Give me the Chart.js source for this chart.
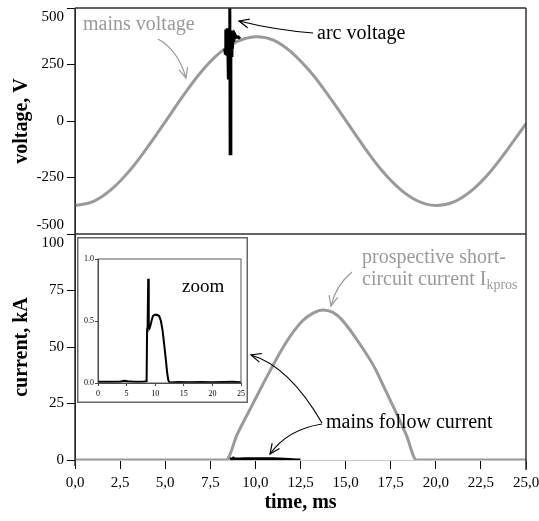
<!DOCTYPE html>
<html>
<head>
<meta charset="utf-8">
<script src="https://cdn.jsdelivr.net/npm/chart.js@4.4.0/dist/chart.umd.min.js"></script>
<style>
  html, body { margin: 0; padding: 0; background: #fff; }
  #wrap { position: relative; width: 539px; height: 521px; }
  #main { position: absolute; left: 0; top: 0; }
  #inset { position: absolute; left: 77px; top: 237px; }
</style>
</head>
<body>
<div id="wrap">
  <canvas id="main" width="539" height="521"></canvas>
  <canvas id="inset" width="171" height="166"></canvas>
</div>
<script>
// Values
const mainsT = [0, 1, 2, 3, 4, 5, 6, 7, 8, 9, 10, 11, 12, 13, 14, 15, 16, 17, 18, 19, 20, 21, 22, 23, 24, 25];
const mainsV = [-374, -357, -304, -222, -118, -4, 112, 218, 300, 352, 373, 358, 304, 222, 118, 4, -112, -218, -300, -354, -374, -358, -307, -227, -123, -12];

const arcT = [8.30, 8.33, 8.36, 8.40, 8.44, 8.48, 8.50, 8.52, 8.55, 8.58, 8.60, 8.64, 8.67, 8.70, 8.73, 8.76, 8.80, 8.85, 8.95, 9.05, 9.15];
const arcV = [320, 300, 405, 290, 410, 285, 190, 400, 300, 560, -145, 395, 290, 400, 320, 395, 350, 385, 370, 372, 365];

const prosT = [0, 8.37, 9.0, 9.83, 10.78, 11.7, 12.6, 13.2, 13.74, 14.3, 14.8, 15.9, 16.6, 17.26, 18.37, 18.93, 25];
const prosI = [0, 0, 11.5, 24.4, 39, 52, 61.5, 65, 66.4, 65.3, 62, 50, 41, 30, 11, 0, 0];

const followT = [0, 1.5, 3, 4, 4.6, 5.2, 6, 7, 8, 8.5, 8.58, 8.62, 8.7, 8.78, 8.84, 8.9, 9.0, 9.15, 9.35, 9.6, 9.9, 10.3, 10.7, 11.0, 11.3, 11.6, 11.9, 12.1, 12.3, 12.5, 14, 16, 18, 20, 22, 23.5, 25];
const followI = [0.01, 0.01, 0.01, 0.012, 0.018, 0.015, 0.012, 0.01, 0.012, 0.015, 0.44, 0.46, 0.41, 0.84, 0.5, 0.45, 0.44, 0.46, 0.5, 0.54, 0.55, 0.55, 0.54, 0.5, 0.42, 0.3, 0.17, 0.08, 0.02, 0.005, 0.008, 0.006, 0.009, 0.007, 0.008, 0.01, 0.006];

const timeTicks = [0, 2.5, 5, 7.5, 10, 12.5, 15, 17.5, 20, 22.5, 25];
const voltTicks = [-500, -250, 0, 250, 500];
const currTicks = [0, 25, 50, 75, 100];
const zoomTicksX = [0, 5, 10, 15, 20, 25];
const zoomTicksY = [0, 0.5, 1];

const SERIF = '"Liberation Serif", "Times New Roman", serif';
const GRAY = '#9a9a9a';

function pts(xs, ys) {
    return xs.map((x, i) => ({ x: x, y: ys[i] }));
}

function arrow(ctx, color, path, from, tip) {
    ctx.save();
    ctx.strokeStyle = color;
    ctx.lineWidth = 1.2;
    ctx.beginPath();
    path(ctx);
    ctx.stroke();
    const ang = Math.atan2(tip[1] - from[1], tip[0] - from[0]);
    const len = 11, spread = 0.42;
    ctx.beginPath();
    ctx.moveTo(tip[0] - len * Math.cos(ang - spread), tip[1] - len * Math.sin(ang - spread));
    ctx.lineTo(tip[0], tip[1]);
    ctx.lineTo(tip[0] - len * Math.cos(ang + spread), tip[1] - len * Math.sin(ang + spread));
    ctx.stroke();
    ctx.restore();
}

// frame lines and annotations of the main chart
const mainDecor = {
    id: 'mainDecor',
    afterDatasetsDraw(chart) {
        const { ctx, chartArea: a, scales } = chart;
        const sep = scales.yV.bottom;
        ctx.save();
        ctx.strokeStyle = '#333';
        ctx.lineWidth = 1.5;
        ctx.beginPath();
        ctx.moveTo(a.left, a.top); ctx.lineTo(a.right, a.top);
        ctx.moveTo(a.left, sep); ctx.lineTo(a.right, sep);
        ctx.moveTo(a.right, a.top); ctx.lineTo(a.right, a.bottom + 10);
        ctx.moveTo(a.left, a.top); ctx.lineTo(a.left, a.bottom + 6);
        ctx.stroke();

        ctx.font = '20px ' + SERIF;
        ctx.textBaseline = 'middle';
        ctx.textAlign = 'left';
        ctx.fillStyle = GRAY;
        ctx.fillText('mains voltage', 83, 25);
        ctx.fillText('prospective short-', 362, 258);
        ctx.fillText('circuit current I', 362, 280);
        const w = ctx.measureText('circuit current I').width;
        ctx.font = '14px ' + SERIF;
        ctx.fillText('kpros', 362 + w, 285);

        ctx.font = '20px ' + SERIF;
        ctx.fillStyle = '#000';
        ctx.fillText('arc voltage', 317, 34);
        ctx.fillText('mains follow current', 326, 423);
        ctx.restore();

        arrow(ctx, GRAY, c => { c.moveTo(158, 39); c.quadraticCurveTo(178, 50, 186, 78); }, [178, 50], [186, 78]);
        arrow(ctx, GRAY, c => { c.moveTo(352, 272); c.quadraticCurveTo(336, 285, 331, 306); }, [336, 285], [331, 306]);
        arrow(ctx, '#000', c => { c.moveTo(313, 33); c.quadraticCurveTo(275, 30, 239, 21); }, [275, 30], [239, 21]);
        arrow(ctx, '#000', c => { c.moveTo(322, 423); c.bezierCurveTo(300, 385, 275, 362, 251, 355); }, [275, 362], [251, 355]);
        arrow(ctx, '#000', c => { c.moveTo(322, 424); c.bezierCurveTo(296, 428, 280, 440, 270, 454); }, [280, 440], [270, 454]);
    }
};

const tickFont = { family: SERIF, size: 15 };
const titleFont = { family: SERIF, size: 20, weight: 'bold' };
const gridY = { drawOnChartArea: false, drawTicks: true, tickLength: 8, color: '#000', lineWidth: 1 };
const borderY = { display: true, color: '#000', width: 1 };
const fitY = s => { s.width = 75; s.paddingTop = 0; s.paddingBottom = 0; };

new Chart(document.getElementById('main'), {
    type: 'line',
    data: {
        datasets: [
            { data: pts(arcT, arcV), yAxisID: 'yV', borderColor: '#000', borderWidth: 3, pointRadius: 0, tension: 0 },
            { data: pts(followT.slice(10, 30), followI.slice(10, 30)), yAxisID: 'yI', borderColor: '#000', borderWidth: 3, pointRadius: 0, tension: 0 },
            { data: pts(mainsT, mainsV), yAxisID: 'yV', borderColor: GRAY, borderWidth: 3, pointRadius: 0, tension: 0.4 },
            { data: pts(prosT, prosI), yAxisID: 'yI', borderColor: GRAY, borderWidth: 3, pointRadius: 0, cubicInterpolationMode: 'monotone' }
        ]
    },
    options: {
        responsive: false,
        animation: false,
        devicePixelRatio: 1,
        layout: { padding: { left: 0, right: 13, top: 8, bottom: 0 } },
        plugins: { legend: { display: false }, tooltip: { enabled: false } },
        scales: {
            x: {
                type: 'linear', min: 0, max: 25,
                afterBuildTicks: s => { s.ticks = timeTicks.map(v => ({ value: v })); },
                afterFit: s => { s.height = 61; s.paddingLeft = 0; s.paddingRight = 0; },
                ticks: { font: tickFont, color: '#000', padding: 5, maxRotation: 0, autoSkip: false, callback: v => v.toFixed(1).replace('.', ',') },
                grid: { drawOnChartArea: false, drawTicks: true, tickLength: 9, color: '#000' },
                border: { display: true, color: '#c8c8c8', width: 1 },
                title: { display: true, text: 'time, ms', font: titleFont, color: '#000', padding: { top: 0, bottom: 6 } }
            },
            yI: {
                type: 'linear', position: 'left', stack: 'panels', stackWeight: 1,
                min: 0, max: 100,
                afterBuildTicks: s => { s.ticks = currTicks.map(v => ({ value: v })); },
                afterFit: fitY,
                ticks: { font: tickFont, color: '#000', padding: 3, autoSkip: false, callback: v => v === 100 ? ['', '100'] : String(v) },
                grid: gridY, border: borderY,
                title: { display: true, text: 'current, kA', font: titleFont, color: '#000', padding: { top: 10, bottom: 0 } }
            },
            yV: {
                type: 'linear', position: 'left', stack: 'panels', stackWeight: 1,
                min: -500, max: 500,
                afterBuildTicks: s => { s.ticks = voltTicks.map(v => ({ value: v })); },
                afterFit: fitY,
                ticks: { font: tickFont, color: '#000', padding: 3, autoSkip: false, callback: v => v === 500 ? ['', '500'] : v === -500 ? ['-500', ''] : String(v) },
                grid: gridY, border: borderY,
                title: { display: true, text: 'voltage, V', font: titleFont, color: '#000', padding: { top: 10, bottom: 0 } }
            }
        }
    },
    plugins: [mainDecor]
});

// inset: white box, gray frames and the "zoom" label
const insetDecor = {
    id: 'insetDecor',
    beforeDraw(chart) {
        const { ctx, width, height } = chart;
        ctx.save();
        ctx.fillStyle = '#fff';
        ctx.fillRect(0, 0, width, height);
        ctx.strokeStyle = '#666';
        ctx.lineWidth = 1.5;
        ctx.strokeRect(0.75, 0.75, width - 1.5, height - 1.5);
        ctx.restore();
    },
    afterDraw(chart) {
        const { ctx, chartArea: a } = chart;
        ctx.save();
        ctx.strokeStyle = '#555';
        ctx.lineWidth = 1;
        ctx.strokeRect(a.left, a.top, a.right - a.left, a.bottom - a.top);
        ctx.font = '19px ' + SERIF;
        ctx.fillStyle = '#000';
        ctx.textBaseline = 'middle';
        ctx.fillText('zoom', 105, 50);
        ctx.restore();
    }
};

const smallFont = { family: SERIF, size: 8 };

new Chart(document.getElementById('inset'), {
    type: 'line',
    data: {
        datasets: [
            { data: pts(followT, followI), borderColor: '#000', borderWidth: 2, pointRadius: 0, tension: 0 }
        ]
    },
    options: {
        responsive: false,
        animation: false,
        devicePixelRatio: 1,
        layout: { padding: { left: 0, right: 7, top: 22, bottom: 0 } },
        plugins: { legend: { display: false }, tooltip: { enabled: false } },
        scales: {
            x: {
                type: 'linear', min: 0, max: 25,
                afterBuildTicks: s => { s.ticks = zoomTicksX.map(v => ({ value: v })); },
                afterFit: s => { s.height = 20; s.paddingLeft = 0; s.paddingRight = 0; },
                ticks: { font: smallFont, color: '#000', padding: 3, maxRotation: 0, autoSkip: false },
                grid: { drawOnChartArea: false, tickLength: 3, color: '#444' },
                border: { color: '#444' }
            },
            y: {
                type: 'linear', min: 0, max: 1,
                afterBuildTicks: s => { s.ticks = zoomTicksY.map(v => ({ value: v })); },
                afterFit: s => { s.width = 21; s.paddingTop = 0; s.paddingBottom = 0; },
                ticks: { font: smallFont, color: '#000', padding: 1, autoSkip: false, callback: v => v.toFixed(1) },
                grid: { drawOnChartArea: false, tickLength: 3, color: '#444' },
                border: { color: '#444' }
            }
        }
    },
    plugins: [insetDecor]
});
</script>
</body>
</html>
